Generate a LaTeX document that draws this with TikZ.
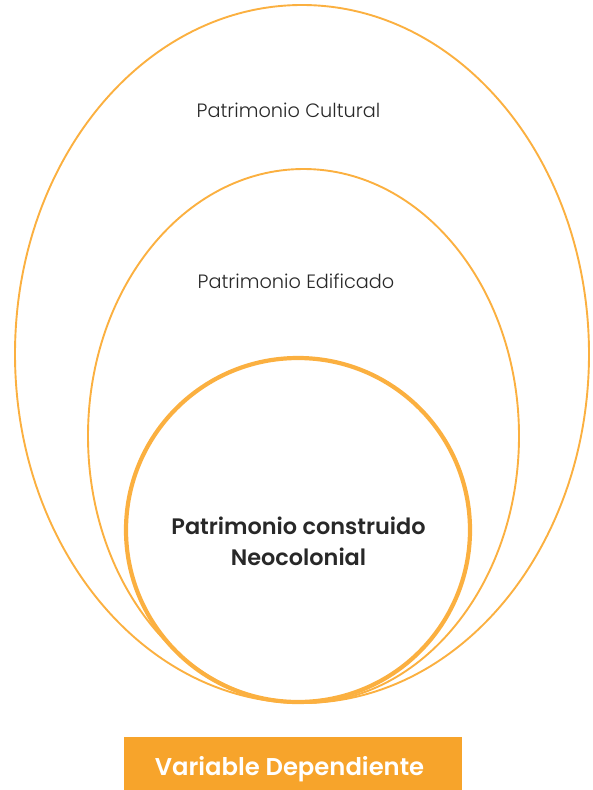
\documentclass[tikz,border=0pt]{standalone}
\usepackage{fontspec}
\setmainfont{Poppins}[BoldFont={Poppins SemiBold}]
\newfontfamily\thinfont{Poppins Light}
\usepackage{xcolor}
\usetikzlibrary{positioning,shapes.geometric}
\definecolor{ringorange}{RGB}{251,176,64}
\definecolor{boxorange}{RGB}{247,164,43}
\definecolor{labgray}{RGB}{40,40,40}

\begin{document}
\begin{tikzpicture}[
  x=1pt, y=-1pt,
  ring/.style={draw=ringorange, line width=1.9pt},
  core/.style={draw=ringorange, line width=4.2pt},
  lab/.style={font=\thinfont\fontsize{19.3}{22}\selectfont, text=labgray},
  corelab/.style={font=\fontsize{22.4}{31}\selectfont\bfseries, text=labgray, align=center},
  tag/.style={fill=boxorange, minimum width=338pt, minimum height=53pt, inner sep=0pt,
    text=white, font=\fontsize{24.3}{26}\selectfont\bfseries},
]
\useasboundingbox (0,0) rectangle (592,790);
% ---- nested sets ----
\node[ring, ellipse, minimum width=574pt, minimum height=698pt, inner sep=0pt] (cultural) at (302,354) {};
\node[ring, ellipse, minimum width=431pt, minimum height=534pt, inner sep=0pt] (edificado) at (303.5,436) {};
\node[core, circle, minimum size=344pt, inner sep=0pt] (neo) at (298,530) {};
% ---- labels ----
\node[lab] (labcult) at (288.5,110) {Patrimonio Cultural};
\node[lab] (labedif) at (296,281) {Patrimonio Edificado};
\node[corelab] (labneo) at (298.5,541) {Patrimonio construido\\ Neocolonial};
% ---- variable tag ----
\node[tag] (var) at (293,763.5) {};
\node[text=white, font=\fontsize{24.3}{26}\selectfont\bfseries] (vartext) at (289.5,769) {Variable Dependiente};
\end{tikzpicture}
\end{document}
